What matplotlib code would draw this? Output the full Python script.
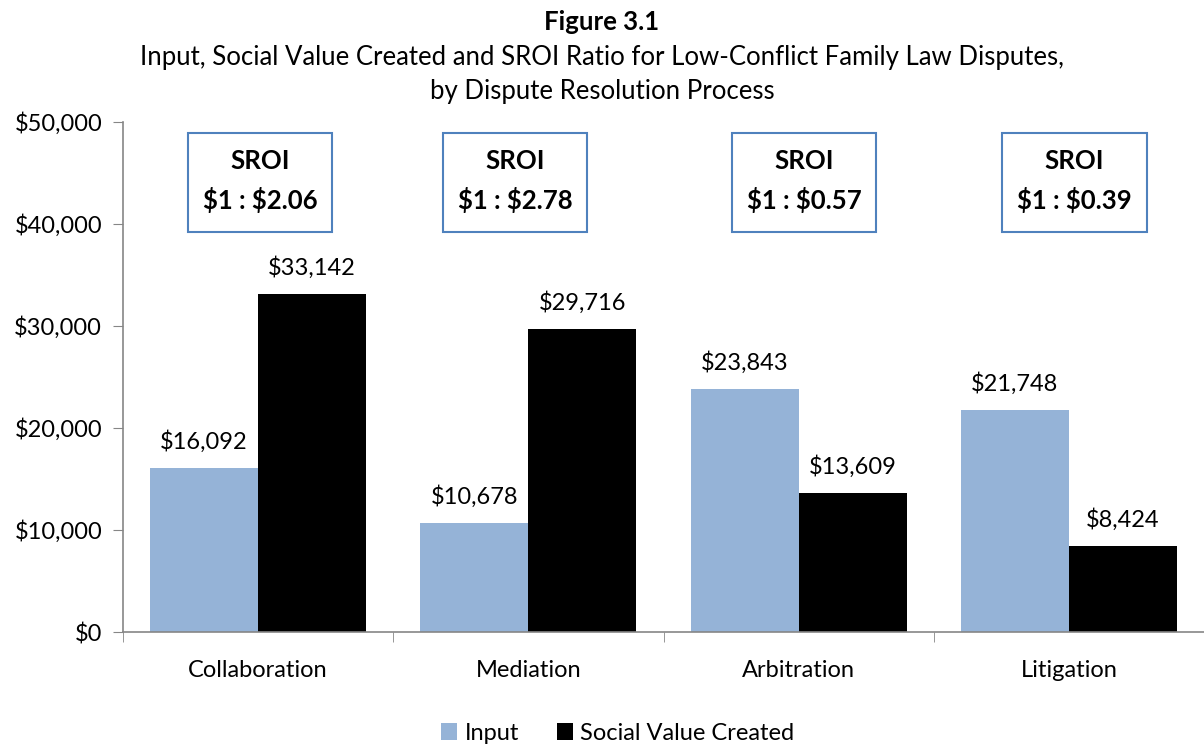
import matplotlib
matplotlib.use("Agg")
import matplotlib.pyplot as plt
import numpy as np
from matplotlib.patches import Rectangle

plt.rcParams['font.family'] = ['Lato', 'DejaVu Sans']

categories = ["Collaboration", "Mediation", "Arbitration", "Litigation"]
input_vals = [16092, 10678, 23843, 21748]
social_vals = [33142, 29716, 13609, 8424]
sroi_labels = [r"\$1 : \$2.06", r"\$1 : \$2.78", r"\$1 : \$0.57", r"\$1 : \$0.39"]
yticks = [0, 10000, 20000, 30000, 40000, 50000]

fig = plt.figure(figsize=(12.04, 7.46), dpi=100)
ax = fig.add_axes([123/1204, 1-632/746, 1-123/1204, (632-122)/746])

x = np.arange(len(categories))
w = 0.4
c_in = '#95B3D7'
ax.bar(x - w/2, input_vals, width=w, color=c_in, label='Input', zorder=2)
ax.bar(x + w/2, social_vals, width=w, color='black', label='Social Value Created', zorder=2)

for xi, v in zip(x - w/2, input_vals):
    ax.text(xi, v + 1500, f"\\${v:,.0f}", ha='center', va='bottom', fontsize=17)
for xi, v in zip(x + w/2, social_vals):
    ax.text(xi, v + 1500, f"\\${v:,.0f}", ha='center', va='bottom', fontsize=17)

# SROI boxes
box_offsets = [0.007, -0.05, 0.02, 0.02]
for xi, off, lab in zip(x, box_offsets, sroi_labels):
    cx = xi + off
    bw = 0.535
    rect = Rectangle((cx - bw/2, 39216), bw, 9706, fill=False, edgecolor='#4F81BD', lw=1.5, zorder=3)
    ax.add_patch(rect)
    ax.text(cx, 46200, "SROI", ha='center', va='center', fontsize=18.5, fontweight='bold')
    ax.text(cx, 42400, lab, ha='center', va='center', fontsize=18.5, fontweight='bold')

ax.set_xlim(-0.5, 3.5)
ax.set_ylim(0, 50000)
ax.set_yticks(yticks)
ax.set_yticklabels([f"\\${t:,.0f}" for t in yticks], fontsize=17)
ax.set_xticks(x)
ax.set_xticklabels(categories, fontsize=17)
ax.set_xticks([-0.5, 0.5, 1.5, 2.5, 3.5], minor=True)
ax.tick_params(axis='x', which='major', length=0, pad=20)
ax.tick_params(axis='x', which='minor', length=7, color='#868686', direction='out')
ax.tick_params(axis='y', length=7, color='#868686', pad=8)
for s in ['top', 'right']:
    ax.spines[s].set_visible(False)
for s in ['left', 'bottom']:
    ax.spines[s].set_color('#868686')
    ax.spines[s].set_linewidth(1.2)

fig.text(0.5, 1-22/746, "Figure 3.1", ha='center', va='center', fontsize=18.5, fontweight='bold')
fig.text(0.5, 1-57/746, "Input, Social Value Created and SROI Ratio for Low-Conflict Family Law Disputes,", ha='center', va='center', fontsize=18.5)
fig.text(0.5, 1-92/746, "by Dispute Resolution Process", ha='center', va='center', fontsize=18.5)

fig.legend(loc='center', bbox_to_anchor=(0.513, 1-733/746), ncol=2, frameon=False, fontsize=17,
           handlelength=0.7, handleheight=0.7, handletextpad=0.3, columnspacing=1.6)

fig.savefig("out.png", dpi=100)
